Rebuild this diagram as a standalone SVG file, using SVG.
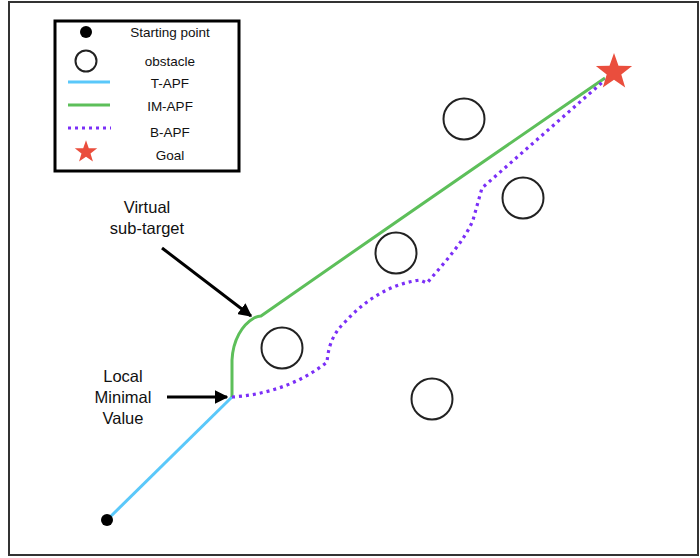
<svg xmlns="http://www.w3.org/2000/svg" width="700" height="558" viewBox="0 0 700 558">
<style>
text{font-family:"Liberation Sans",Arial,sans-serif;fill:#111;text-anchor:middle}
.leg{font-size:13.5px}
.lbl{font-size:16.5px}
.obs{fill:none;stroke:#222;stroke-width:2}
.t{fill:none;stroke:#5AC8FA;stroke-width:3}
.im{fill:none;stroke:#5DBF5A;stroke-width:3}
.b{fill:none;stroke:#7B2FF7;stroke-width:3.2;stroke-dasharray:3 4}
.arr{fill:none;stroke:#000;stroke-width:3}
.star{fill:#EA4E3D}
</style>
<defs>
<marker id="ah" viewBox="0 0 10 10" refX="9" refY="5" markerWidth="4.5" markerHeight="4.5" orient="auto" markerUnits="strokeWidth">
<path d="M0,0 L10,5 L0,10 z" fill="#000"/>
</marker>
<polygon id="starShape" points="0,-19 4.5,-6.2 18.1,-5.9 7.3,2.4 11.2,15.4 0,7.7 -11.2,15.4 -7.3,2.4 -18.1,-5.9 -4.5,-6.2"/>
</defs>
<rect x="0" y="0" width="700" height="558" fill="#fff"/>
<rect id="frame" x="9" y="2" width="689" height="553" fill="none" stroke="#333" stroke-width="2"/>

<g id="legend">
<rect x="55" y="21" width="184" height="150" fill="#fff" stroke="#000" stroke-width="3"/>
<circle cx="86" cy="32" r="6" fill="#000"/>
<text class="leg" x="170" y="37">Starting point</text>
<circle cx="86" cy="61" r="10.5" class="obs" stroke-width="1.5"/>
<text class="leg" x="170" y="66">obstacle</text>
<line x1="68" y1="82" x2="110" y2="82" class="t"/>
<text class="leg" x="170" y="88">T-APF</text>
<line x1="68" y1="105" x2="110" y2="105" class="im"/>
<text class="leg" x="170" y="111">IM-APF</text>
<line x1="68" y1="128" x2="111" y2="128" class="b" stroke-width="3"/>
<text class="leg" x="170" y="137">B-APF</text>
<use href="#starShape" transform="translate(86,152) scale(0.62)" class="star"/>
<text class="leg" x="170" y="160">Goal</text>
</g>

<g id="obstacles">
<circle id="obs1" cx="464" cy="119" r="20.5" class="obs"/>
<circle id="obs2" cx="523" cy="198" r="20.5" class="obs"/>
<circle id="obs3" cx="396" cy="253" r="20.5" class="obs"/>
<circle id="obs4" cx="282" cy="348" r="20.5" class="obs"/>
<circle id="obs5" cx="432" cy="399" r="20.5" class="obs"/>
</g>

<g id="connectors">
<path id="tapf" d="M107,520 L232,397" class="t"/>
<path id="imapf" d="M232,397 L232,360 C233,340 242,325 254,318 Q258,316 261,316 Q420,205 605,78" class="im"/>
<path id="bapf" d="M232,397 C265,395 300,384 327,362 C328,352 330,336 345,322 C365,300 390,284 420,280 L427,283 C445,262 465,240 473,220 L482,188 L605,80" class="b"/>
<line id="arr1" x1="162" y1="248" x2="251" y2="316" class="arr" marker-end="url(#ah)"/>
<line id="arr2" x1="167" y1="397" x2="227" y2="397" class="arr" marker-end="url(#ah)"/>
</g>

<g id="start"><circle cx="107" cy="520" r="6" fill="#000"/></g>
<g id="goal"><use href="#starShape" transform="translate(614,72)" class="star"/></g>

<g id="labels">
<text class="lbl" x="147" y="213">Virtual</text>
<text class="lbl" x="147" y="234">sub-target</text>
<text class="lbl" x="123" y="382">Local</text>
<text class="lbl" x="123" y="403">Minimal</text>
<text class="lbl" x="123" y="424">Value</text>
</g>
</svg>
